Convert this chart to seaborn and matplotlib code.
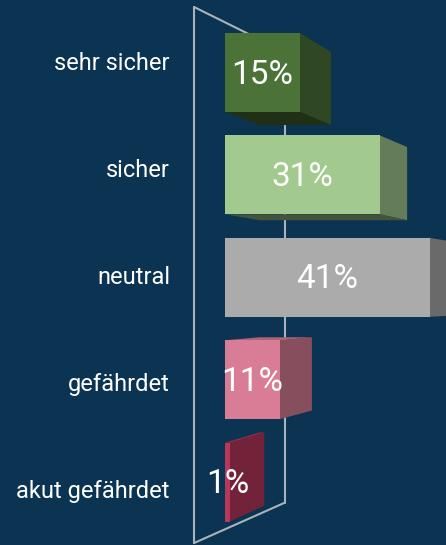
import numpy as np
import seaborn as sns
import matplotlib.pyplot as plt
from matplotlib.patches import Polygon
from matplotlib.colors import to_rgb


# data
categories = ["sehr sicher", "sicher", "neutral", "gefährdet", "akut gefährdet"]
values = [15, 31, 41, 11, 1]
bar_colors = ["#4b7337", "#a2c98e", "#ababab", "#d97d96", "#b8375c"]

bg = "#0a3452"
frame_color = "#aab2ba"

# perspective of the fake 3D look (data units)
KX, VX = 0.048, 144.0   # depth shift along x toward a vanishing x
KY, VY = 0.071, 2.2     # depth shift along y toward a vanishing y
BAR_W = 0.77


def back(x, y):
    return x + KX * (VX - x), y + KY * (VY - y)


def shade(c, f):
    r, g, b = to_rgb(c)
    return (r * f, g * f, b * f)


sns.set_theme(style="white")
plt.rcParams["font.family"] = ["Roboto", "DejaVu Sans"]

fig = plt.figure(figsize=(4.46, 5.45), dpi=100, facecolor=bg)
ax = fig.add_axes([0, 0, 1, 1])

sns.barplot(x=values, y=categories, hue=categories, palette=bar_colors,
            legend=False, width=BAR_W, orient="h", saturation=1,
            linewidth=0, ax=ax, zorder=5)

ax.set_xlim(-45, 44.2)
ax.set_ylim(4.614, -0.708)
ax.set_axis_off()

# frame of the 3D pane (left wall)
fx0, fx1 = -6.2, 12.0
ax.plot([fx0, fx0], [-0.64, 4.595], color=frame_color, lw=1.5, zorder=1)
ax.plot([fx0, fx1], [-0.64, -0.2], color=frame_color, lw=1.5, zorder=1)
ax.plot([fx1, fx1], [-0.2, 4.2], color=frame_color, lw=1.5, zorder=1)
ax.plot([fx1, fx0], [4.2, 4.595], color=frame_color, lw=1.5, zorder=1)

# side / top / bottom faces from the drawn bars
for bar, col in zip(ax.patches, bar_colors):
    x0 = bar.get_x()
    x1 = x0 + bar.get_width()
    yt = bar.get_y()
    yb = yt + bar.get_height()
    bx0, byt = back(x0, yt)
    bx1, byt1 = back(x1, yt)
    _, byb = back(x0, yb)
    _, byb1 = back(x1, yb)
    # right side
    ax.add_patch(Polygon([(x1, yt), (bx1, byt1), (bx1, byb1), (x1, yb)],
                         closed=True, fc=shade(col, 0.62), ec="none", zorder=3))
    if byt1 < yt:
        ax.add_patch(Polygon([(x0, yt), (bx0, byt), (bx1, byt1), (x1, yt)],
                             closed=True, fc=shade(col, 0.8), ec="none", zorder=3))
    if byb1 > yb:
        ax.add_patch(Polygon([(x0, yb), (bx0, byb), (bx1, byb1), (x1, yb)],
                             closed=True, fc=shade(col, 0.42), ec="none", zorder=3))

# labels
for i, (cat, v) in enumerate(zip(categories, values)):
    ax.text(-11, 2 + (i - 2) * 1.045, cat, ha="right", va="center",
            color="white", fontsize=17, zorder=10)
    ax.text(v / 2, i + 0.02, f"{v}%", ha="center", va="center",
            color="white", fontsize=24, zorder=10)

fig.savefig("out.png", dpi=100, facecolor=bg)
